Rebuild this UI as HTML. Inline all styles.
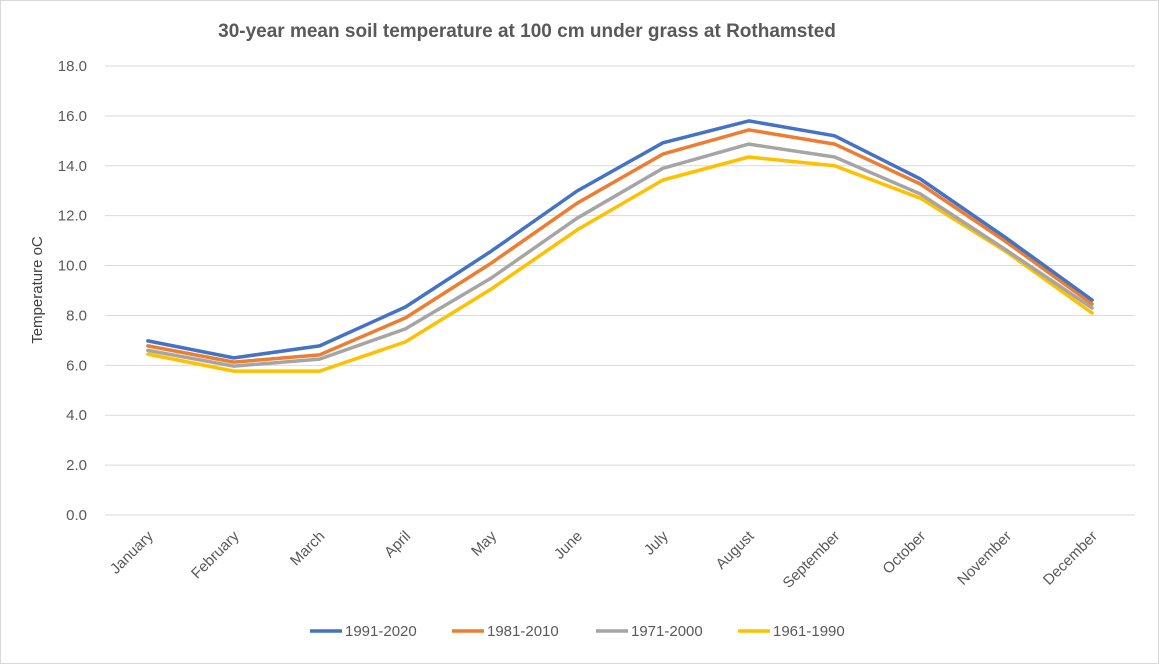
<!DOCTYPE html>
<html><head><meta charset="utf-8"><style>
html,body{margin:0;padding:0;background:#fff;}
svg{display:block;font-family:"Liberation Sans",sans-serif;}
</style></head><body>
<svg id="chart" width="1159" height="664" viewBox="0 0 1159 664">
<rect x="0.5" y="0.5" width="1158" height="663" fill="#fff" stroke="#d9d9d9"/>
<text x="527" y="37" text-anchor="middle" font-size="19" font-weight="bold" fill="#595959">30-year mean soil temperature at 100 cm under grass at Rothamsted</text>
<text transform="translate(42,290) rotate(-90)" text-anchor="middle" font-size="15" fill="#404040">Temperature oC</text>
<g id="grid"></g><g id="yticks"></g><g id="xticks"></g><g id="series"></g><g id="legend"></g>
</svg>
<script>
const months=["January","February","March","April","May","June","July","August","September","October","November","December"];
const yTicks=[0,2,4,6,8,10,12,14,16,18];
const seriesNames=["1991-2020","1981-2010","1971-2000","1961-1990"];
const s1991=[6.98,6.3,6.78,8.34,10.58,12.99,14.92,15.8,15.2,13.47,11.1,8.62];
const s1981=[6.78,6.13,6.42,7.9,10.1,12.5,14.47,15.44,14.87,13.27,10.95,8.46];
const s1971=[6.6,5.97,6.25,7.46,9.5,11.9,13.9,14.87,14.35,12.87,10.62,8.3];
const s1961=[6.45,5.77,5.77,6.94,9.06,11.43,13.43,14.35,14.0,12.7,10.55,8.1];
const colors=["#4472c4","#ed7d31","#a5a5a5","#ffc000"];
const NS="http://www.w3.org/2000/svg";
const x0=105,x1=1135,yTop=66,yBot=515;
const step=(x1-x0)/months.length;
const xs=i=>x0+step*(i+0.5);
const ys=v=>yBot-(v/18)*(yBot-yTop);
function mk(t,a,p){const e=document.createElementNS(NS,t);for(const k in a)e.setAttribute(k,a[k]);p.appendChild(e);return e;}
const grid=document.getElementById('grid'),yt=document.getElementById('yticks'),xt=document.getElementById('xticks'),sg=document.getElementById('series'),lg=document.getElementById('legend');
yTicks.forEach(v=>{
 const l=mk('line',{x1:x0,x2:x1,y1:ys(v),y2:ys(v),stroke:'#d9d9d9','stroke-width':1},grid);
 
 
 const t=mk('text',{x:x0-18,y:ys(v)+5,'text-anchor':'end','font-size':15,fill:'#595959'},yt);
 t.textContent=v.toFixed(1);
 
 
});
months.forEach((m,i)=>{
 const t=mk('text',{transform:`translate(${xs(i)+6},${yBot+22}) rotate(-45)`,'text-anchor':'end','font-size':15,fill:'#595959'},xt);
 t.textContent=m;
 
 
});
const all=[s1991,s1981,s1971,s1961];
[3,2,1,0].forEach(k=>{
 const d=all[k].map((v,i)=>(i?'L':'M')+xs(i).toFixed(1)+','+ys(v).toFixed(1)).join(' ');
 const p=mk('path',{d:d,fill:'none',stroke:colors[k],'stroke-width':3.5,'stroke-linejoin':'round','stroke-linecap':'round'},sg);
 
 
});
const lx=[310,452,596,738];
seriesNames.forEach((n,k)=>{
 const g=mk('g',{},lg);
 
 
 mk('line',{x1:lx[k],x2:lx[k]+32,y1:631,y2:631,stroke:colors[k],'stroke-width':3.5},g);
 const t=mk('text',{x:lx[k]+35,y:636,'font-size':15,fill:'#595959'},g);
 t.textContent=n;
});
</script>
</body></html>
